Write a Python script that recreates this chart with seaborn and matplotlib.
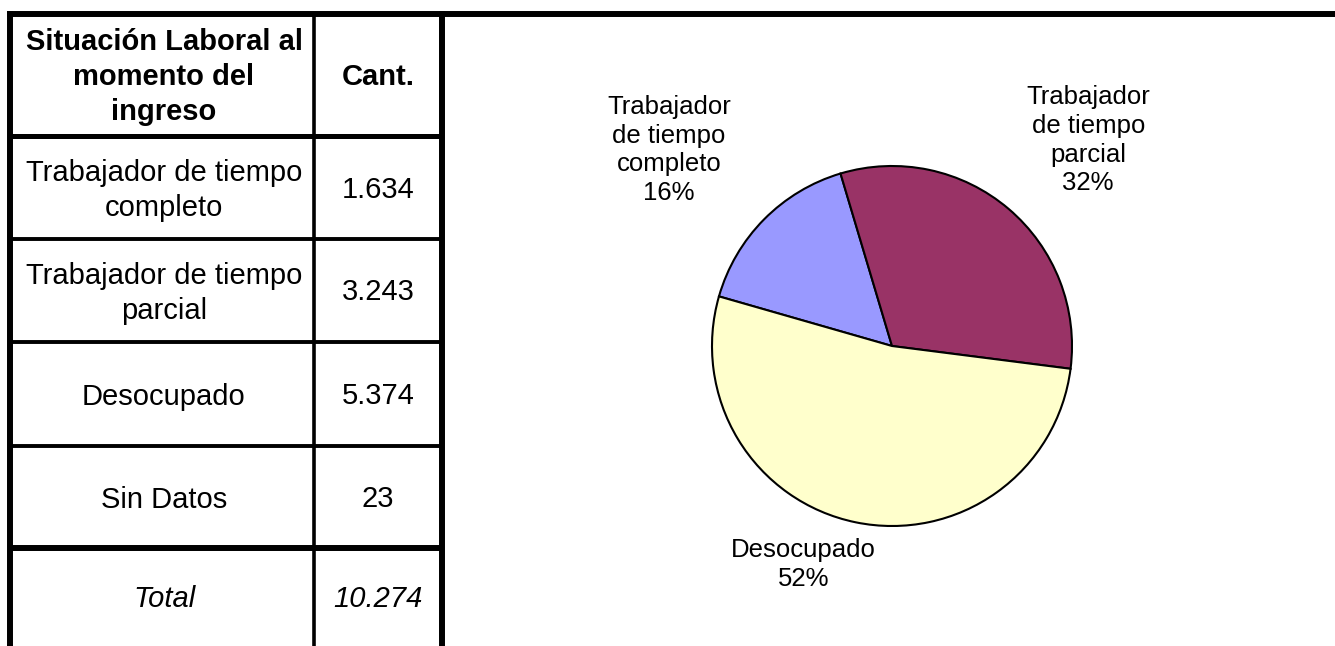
import numpy as np
import matplotlib
matplotlib.use("Agg")
import matplotlib.pyplot as plt
import seaborn as sns

# ——— Data ———
table_header = ["Situación Laboral al\nmomento del\ningreso", "Cant."]
categories   = ["Trabajador de tiempo\ncompleto", "Trabajador de tiempo\nparcial",
                "Desocupado", "Sin Datos"]
counts       = [1634, 3243, 5374, 23]
total_label  = "Total"
pie_labels   = ["Trabajador\nde tiempo\ncompleto", "Trabajador\nde tiempo\nparcial",
                "Desocupado"]
pie_colors   = ["#9999FF", "#993366", "#FFFFCC"]

# ——— Style ———
sns.set_theme(style="white")
plt.rcParams["font.family"] = ["Liberation Sans", "DejaVu Sans"]
plt.rcParams["text.color"] = "black"

W, H = 1335, 646
fig = plt.figure(figsize=(W / 100, H / 100), dpi=100)

# background axes in pixel coordinates for the table
bg = fig.add_axes([0, 0, 1, 1])
bg.set_xlim(0, W)
bg.set_ylim(H, 0)
bg.axis("off")

def fmt(n):
    return f"{n:,}".replace(",", ".")

# table grid
row_edges = [14, 136, 239, 342, 446, 548, H]
col_x     = [10, 314, 442]
bg.plot([7, W], [14, 14], color="black", lw=4.3, solid_capstyle="butt")
bg.plot([col_x[0], col_x[0]], [11, H], color="black", lw=4.3, solid_capstyle="butt")
bg.plot([col_x[2], col_x[2]], [11, H], color="black", lw=4.3, solid_capstyle="butt")
bg.plot([col_x[1], col_x[1]], [14, H], color="black", lw=2.6, solid_capstyle="butt")
for i, y in enumerate(row_edges[1:-1]):
    lw = 3.6 if i == 0 else (4.3 if i == 4 else 2.8)
    bg.plot([col_x[0], col_x[2]], [y, y], color="black", lw=lw, solid_capstyle="butt")

c1 = (col_x[0] + col_x[1]) / 2 + 2
c2 = (col_x[1] + col_x[2]) / 2
centers = [(row_edges[i] + row_edges[i + 1]) / 2 + 2 for i in range(len(row_edges) - 1)]

bg.text(c1, centers[0], table_header[0], ha="center", va="center",
        fontsize=21, fontweight="bold", linespacing=1.32)
bg.text(c2, centers[0], table_header[1], ha="center", va="center",
        fontsize=21, fontweight="bold")
for i, (cat, n) in enumerate(zip(categories, counts)):
    bg.text(c1, centers[i + 1] + 1, cat, ha="center", va="center", fontsize=21, linespacing=1.32)
    bg.text(c2, centers[i + 1], fmt(n), ha="center", va="center", fontsize=21)
bg.text(c1, centers[-1], total_label, ha="center", va="center", fontsize=21, style="italic")
bg.text(c2, centers[-1], fmt(sum(counts)), ha="center", va="center", fontsize=21, style="italic")

# ——— Pie (Sin Datos is too small to show) ———
pie_counts = counts[:3]
cx, cy, r = 892, 346, 180
ax = fig.add_axes([(cx - r) / W, (H - cy - r) / H, 2 * r / W, 2 * r / H])
wedges, _ = ax.pie(pie_counts, colors=sns.color_palette(pie_colors), startangle=164,
                   counterclock=False, radius=1,
                   wedgeprops=dict(edgecolor="black", linewidth=1.5))
ax.set_xlim(-1, 1)
ax.set_ylim(-1, 1)
ax.set_aspect("equal")
ax.axis("off")

# label placement: (distance in radii, angle offset in degrees)
label_place = [(1.65, 3.4), (1.58, -3.3), (1.31, -10.4)]
total = sum(pie_counts)
for w, lab, n, pl in zip(wedges, pie_labels, pie_counts, label_place):
    mid = np.deg2rad((w.theta1 + w.theta2) / 2 + pl[1])
    ax.text(pl[0] * np.cos(mid), pl[0] * np.sin(mid),
            f"{lab}\n{round(100 * n / total)}%",
            ha="center", va="center", fontsize=18.5, linespacing=1.25)

fig.savefig("out.png", dpi=100)
